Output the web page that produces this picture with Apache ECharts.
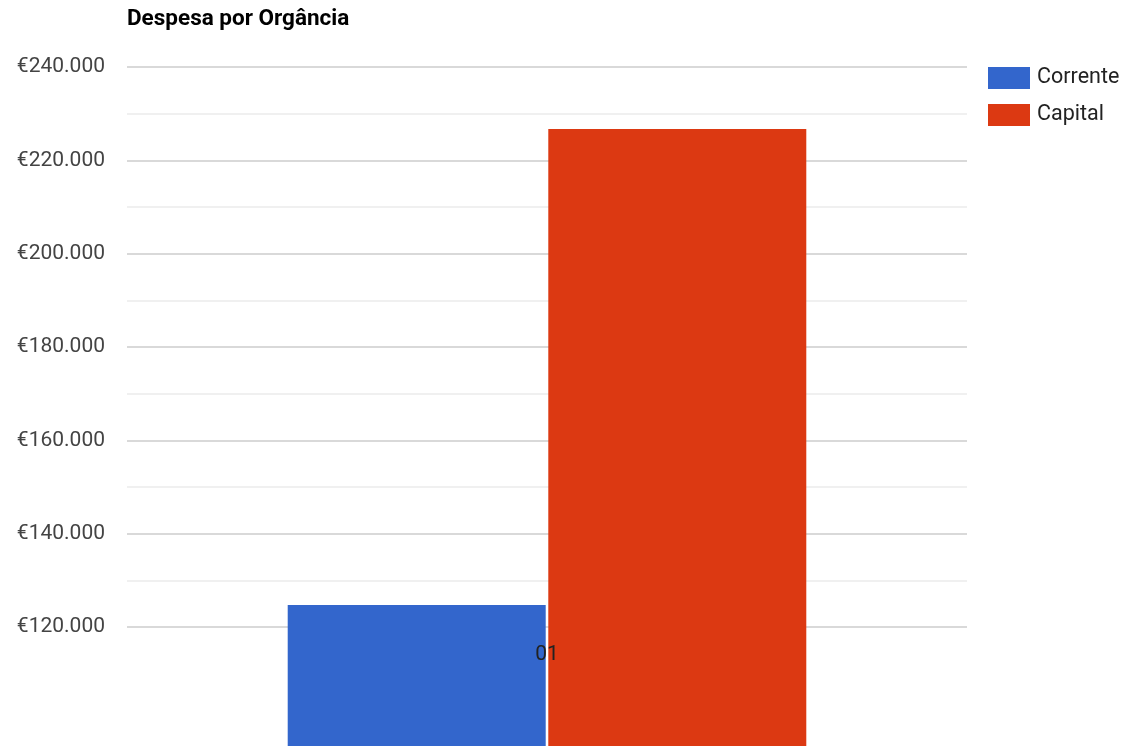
<!DOCTYPE html>
<html>
<head>
<meta charset="utf-8">
<script src="https://cdn.jsdelivr.net/npm/echarts@6/dist/echarts.min.js"></script>
<style>
html,body{margin:0;padding:0;background:#fff;overflow:hidden;}
#chart{width:1125px;height:746px;}
</style>
</head>
<body>
<div id="chart"></div>
<script>
var categories = ['01'];
var seriesNames = ['Corrente', 'Capital'];
var correnteValues = [124700];
var capitalValues = [226700];
var yTicks = [120000, 140000, 160000, 180000, 200000, 220000, 240000];

function fmt(v) {
  return '€' + String(v).replace(/\B(?=(\d{3})+(?!\d))/g, '.');
}

var chart = echarts.init(document.getElementById('chart'), null, {renderer: 'canvas'});
chart.setOption({
  animation: false,
  backgroundColor: '#fff',
  title: {
    text: 'Despesa por Orgância',
    left: 122,
    top: 3,
    textStyle: {fontFamily: 'Roboto', fontWeight: 'bold', fontSize: 22.5, color: '#000'}
  },
  legend: {
    orient: 'vertical',
    left: 983,
    top: 62,
    itemWidth: 42,
    itemHeight: 22,
    itemGap: 15,
    icon: 'rect',
    data: seriesNames,
    textStyle: {fontFamily: 'Roboto', fontSize: 21.5, color: '#222', padding: [0, 0, 0, 2]}
  },
  grid: {left: 127, top: 67, width: 840, height: 560, containLabel: false},
  xAxis: {
    type: 'category',
    data: categories,
    z: 10,
    axisLine: {show: false},
    axisTick: {show: false},
    axisLabel: {fontFamily: 'Roboto', fontSize: 21, color: '#222', margin: 17}
  },
  yAxis: {
    type: 'value',
    min: yTicks[0],
    max: yTicks[yTicks.length - 1],
    interval: yTicks[1] - yTicks[0],
    axisLine: {show: false},
    axisTick: {show: false},
    axisLabel: {fontFamily: 'Roboto', fontSize: 21, color: '#444', margin: 22, formatter: fmt},
    splitLine: {lineStyle: {color: '#cccccc', width: 1.5}},
    minorTick: {show: false, splitNumber: 2},
    minorSplitLine: {show: true, lineStyle: {color: '#ebebeb', width: 1.5}}
  },
  series: [
    {name: seriesNames[0], type: 'bar', data: correnteValues, barWidth: 258, barGap: '1%', clip: false,
     itemStyle: {color: '#3366cc'}},
    {name: seriesNames[1], type: 'bar', data: capitalValues, barWidth: 258, barGap: '1%', clip: false,
     itemStyle: {color: '#dc3912'}}
  ]
});
</script>
</body>
</html>
